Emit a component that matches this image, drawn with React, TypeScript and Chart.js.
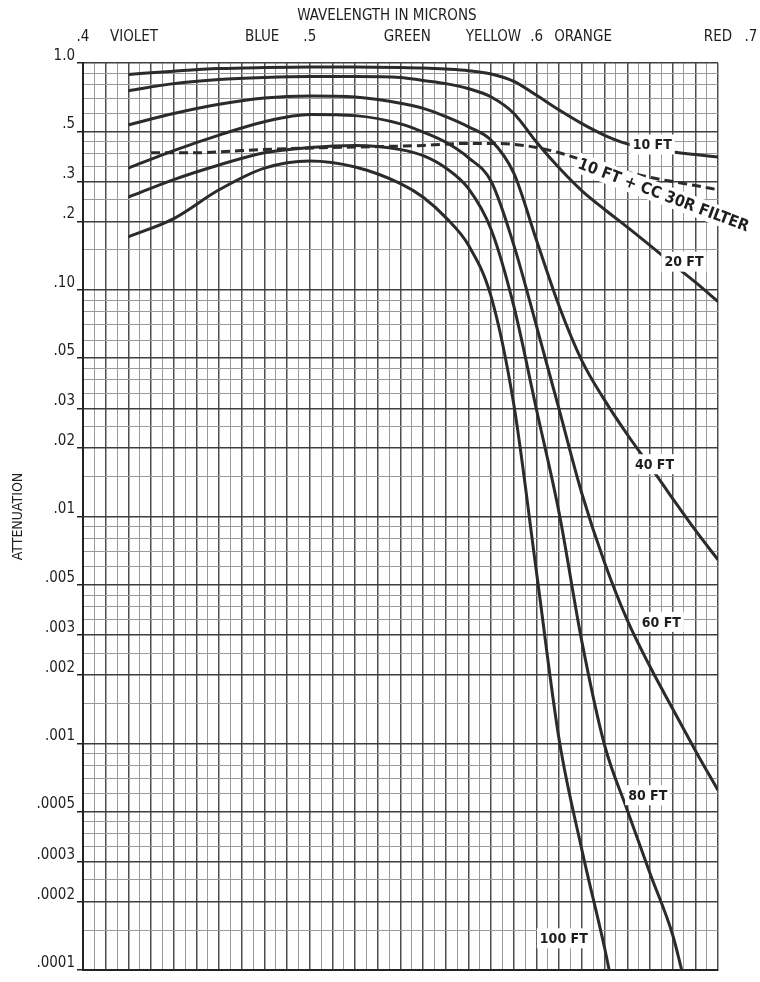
import React, { useEffect, useRef } from "react";
import { Chart, registerables } from "chart.js";

Chart.register(...registerables);

// ---------- DATA (wavelength in microns, attenuation fraction) ----------
const wl10 = [0.42, 0.44, 0.46, 0.48, 0.5, 0.52, 0.54, 0.55, 0.56, 0.57, 0.58, 0.59, 0.6, 0.61, 0.62, 0.63, 0.64, 0.65, 0.66, 0.67, 0.68];
const att10 = [0.89, 0.92, 0.945, 0.955, 0.96, 0.96, 0.955, 0.95, 0.94, 0.925, 0.895, 0.83, 0.72, 0.62, 0.54, 0.48, 0.44, 0.42, 0.405, 0.395, 0.385];

const wlFilter = [0.43, 0.45, 0.47, 0.49, 0.51, 0.53, 0.55, 0.57, 0.58, 0.59, 0.6, 0.61, 0.62, 0.63, 0.64, 0.65, 0.66, 0.67, 0.68];
const attFilter = [0.402, 0.402, 0.411, 0.419, 0.424, 0.428, 0.433, 0.442, 0.442, 0.438, 0.424, 0.402, 0.374, 0.351, 0.33, 0.313, 0.3, 0.288, 0.276];

const wl20 = [0.42, 0.44, 0.46, 0.48, 0.5, 0.52, 0.54, 0.55, 0.56, 0.57, 0.58, 0.59, 0.6, 0.61, 0.62, 0.63, 0.64, 0.65, 0.66, 0.67, 0.68];
const att20 = [0.754, 0.811, 0.846, 0.864, 0.873, 0.873, 0.864, 0.837, 0.811, 0.77, 0.708, 0.599, 0.447, 0.344, 0.273, 0.226, 0.189, 0.157, 0.13, 0.108, 0.0887];

const wl40 = [0.42, 0.44, 0.46, 0.48, 0.5, 0.52, 0.54, 0.55, 0.56, 0.57, 0.58, 0.59, 0.6, 0.61, 0.62, 0.63, 0.64, 0.65, 0.66, 0.67, 0.68];
const att40 = [0.534, 0.599, 0.658, 0.701, 0.716, 0.708, 0.665, 0.631, 0.58, 0.523, 0.456, 0.326, 0.165, 0.0844, 0.0486, 0.0326, 0.023, 0.0167, 0.012, 0.0087, 0.00644];

const wl60 = [0.42, 0.44, 0.46, 0.48, 0.5, 0.52, 0.54, 0.55, 0.56, 0.57, 0.58, 0.59, 0.6, 0.61, 0.62, 0.63, 0.64, 0.65, 0.66, 0.67, 0.68];
const att60 = [0.344, 0.411, 0.481, 0.551, 0.593, 0.586, 0.539, 0.496, 0.447, 0.382, 0.3, 0.157, 0.069, 0.0295, 0.0126, 0.00625, 0.00349, 0.00218, 0.00142, 0.00093, 0.00062];

const wl80 = [0.42, 0.44, 0.46, 0.48, 0.5, 0.52, 0.54, 0.55, 0.56, 0.57, 0.58, 0.59, 0.6, 0.61, 0.62, 0.63, 0.64, 0.65, 0.66, 0.664];
const att80 = [0.256, 0.306, 0.355, 0.402, 0.424, 0.433, 0.415, 0.39, 0.344, 0.279, 0.184, 0.0844, 0.0295, 0.0103, 0.0028, 0.00098, 0.000507, 0.000267, 0.000143, 0.0001];

const wl100 = [0.42, 0.44, 0.46, 0.48, 0.5, 0.52, 0.54, 0.55, 0.56, 0.57, 0.58, 0.59, 0.6, 0.61, 0.62, 0.63, 0.632];
const att100 = [0.171, 0.206, 0.276, 0.344, 0.37, 0.348, 0.294, 0.256, 0.208, 0.157, 0.093, 0.031, 0.00565, 0.00103, 0.000338, 0.000125, 0.0001];

const yTickValues = [1, 0.5, 0.3, 0.2, 0.1, 0.05, 0.03, 0.02, 0.01, 0.005, 0.003, 0.002, 0.001, 0.0005, 0.0003, 0.0002, 0.0001];
const yTickLabels = ["1.0", ".5", ".3", ".2", ".10", ".05", ".03", ".02", ".01", ".005", ".003", ".002", ".001", ".0005", ".0003", ".0002", ".0001"];
const gridMantissas = [1, 1.5, 2, 2.5, 3, 3.5, 4, 4.5, 5, 6, 7, 8, 9];

const topWords = [".4", "VIOLET", "BLUE", ".5", "GREEN", "YELLOW", ".6", "ORANGE", "RED", ".7"];
const topWordsAt = [0.4, 0.4225, 0.479, 0.5, 0.543, 0.581, 0.6, 0.6205, 0.68, 0.6945];

const curveLabelText = ["10 FT", "10 FT + CC 30R FILTER", "20 FT", "40 FT", "60 FT", "80 FT", "100 FT"];
const curveLabelWl = [0.651, 0.656, 0.665, 0.652, 0.655, 0.649, 0.612];
const curveLabelAtt = [0.437, 0.262, 0.133, 0.017, 0.00343, 0.00059, 0.000138];

// ---------- build helpers ----------
const FONT = '"DejaVu Sans Condensed", "DejaVu Sans", sans-serif';
const LINE = "#2b2b2b";

function pts(xs: number[], ys: number[]) {
  return xs.map((x, i) => ({ x, y: ys[i] }));
}

const gridValues: number[] = [];
const gridLabels: string[] = [];
for (let e = -4; e <= -1; e++) {
  for (const m of gridMantissas) {
    const v = m * Math.pow(10, e);
    gridValues.push(v);
    const k = yTickValues.findIndex((t) => Math.abs(t - v) / t < 1e-6);
    gridLabels.push(k >= 0 ? yTickLabels[k] : "");
  }
}
gridValues.push(1);
gridLabels.push("1.0");

const xGrid: number[] = [];
for (let i = 0; i <= 56; i++) xGrid.push(+(0.4 + i * 0.005).toFixed(3));

const annotate = {
  id: "annotate",
  afterDatasetsDraw(chart: any) {
    const { ctx } = chart;
    const xs = chart.scales.x;
    const ys = chart.scales.y;
    ctx.save();
    curveLabelText.forEach((t, i) => {
      const px = xs.getPixelForValue(curveLabelWl[i]);
      const py = ys.getPixelForValue(curveLabelAtt[i]);
      ctx.save();
      ctx.translate(px, py);
      if (i === 1) ctx.rotate(0.36);
      ctx.font = i === 1 ? `bold 16px ${FONT}` : `bold 14px ${FONT}`;
      const w = ctx.measureText(t).width;
      ctx.fillStyle = "#ffffff";
      ctx.fillRect(-w / 2 - 3, -10, w + 6, 20);
      ctx.fillStyle = "#1e1e1e";
      ctx.textAlign = "center";
      ctx.textBaseline = "middle";
      ctx.fillText(t, 0, 1);
      ctx.restore();
    });
    ctx.restore();
  },
  afterDraw(chart: any) {
    const { ctx } = chart;
    const xs = chart.scales.x;
    ctx.save();
    ctx.fillStyle = "#1e1e1e";
    ctx.textAlign = "center";
    ctx.textBaseline = "middle";
    ctx.font = `15px ${FONT}`;
    ctx.fillText("WAVELENGTH IN MICRONS", xs.getPixelForValue(0.534), 16);
    topWords.forEach((w, i) => {
      ctx.fillText(w, xs.getPixelForValue(topWordsAt[i]), 37);
    });
    ctx.restore();
  },
};

export default function App() {
  const ref = useRef<HTMLCanvasElement | null>(null);

  useEffect(() => {
    if (!ref.current) return;
    const mk = (label: string, xs: number[], ys: number[], dash: number[] = []) => ({
      label,
      data: pts(xs, ys),
      borderColor: LINE,
      borderWidth: 3,
      borderDash: dash,
      pointRadius: 0,
      fill: false,
      cubicInterpolationMode: "monotone" as const,
    });
    const chart = new Chart(ref.current, {
      type: "line",
      data: {
        datasets: [
          mk("10 FT", wl10, att10),
          mk("10 FT + CC 30R FILTER", wlFilter, attFilter, [9, 5]),
          mk("20 FT", wl20, att20),
          mk("40 FT", wl40, att40),
          mk("60 FT", wl60, att60),
          mk("80 FT", wl80, att80),
          mk("100 FT", wl100, att100),
        ],
      },
      options: {
        responsive: false,
        animation: false,
        layout: { padding: { left: 0, right: 42, top: 63, bottom: 12 } },
        plugins: { legend: { display: false }, tooltip: { enabled: false }, title: { display: false } },
        scales: {
          x: {
            type: "linear",
            min: 0.4,
            max: 0.68,
            afterBuildTicks: (axis: any) => {
              axis.ticks = xGrid.map((v) => ({ value: v }));
            },
            afterFit: (scale: any) => {
              scale.height = 0;
            },
            ticks: { display: false },
            grid: {
              drawTicks: false,
              color: (c: any) => (Math.round((c.tick?.value ?? 0) * 1000) % 10 === 0 ? "#4e4e4e" : "#9a9a9a"),
              lineWidth: (c: any) => (Math.round((c.tick?.value ?? 0) * 1000) % 10 === 0 ? 1.5 : 1),
            },
            border: { display: true, color: "#222", width: 2 },
          },
          y: {
            type: "logarithmic",
            min: 0.0001,
            max: 1,
            afterBuildTicks: (axis: any) => {
              axis.ticks = gridValues.map((v) => ({ value: v }));
            },
            afterFit: (scale: any) => {
              scale.width = 83;
            },
            ticks: {
              autoSkip: false,
              padding: 2,
              labelOffset: -7,
              color: "#1e1e1e",
              font: { family: FONT, size: 15 },
              callback: (_v: any, i: number) => gridLabels[i],
            },
            grid: {
              tickLength: 6,
              color: (c: any) => (gridLabels[c.index] ? "#3e3e3e" : "#9a9a9a"),
              lineWidth: (c: any) => (gridLabels[c.index] ? 1.5 : 1),
              tickColor: (c: any) => (gridLabels[c.index] ? "#222" : "rgba(0,0,0,0)"),
            },
            border: { display: true, color: "#222", width: 2 },
            title: {
              display: true,
              text: "ATTENUATION",
              color: "#1e1e1e",
              font: { family: FONT, size: 14 },
              padding: { top: 10, bottom: 0 },
            },
          },
        },
      },
      plugins: [annotate],
    } as any);
    return () => chart.destroy();
  }, []);

  return (
    <div style={{ position: "absolute", left: 0, top: 0, width: 760, height: 982, background: "#fff" }}>
      <canvas ref={ref} width={760} height={982} />
    </div>
  );
}
